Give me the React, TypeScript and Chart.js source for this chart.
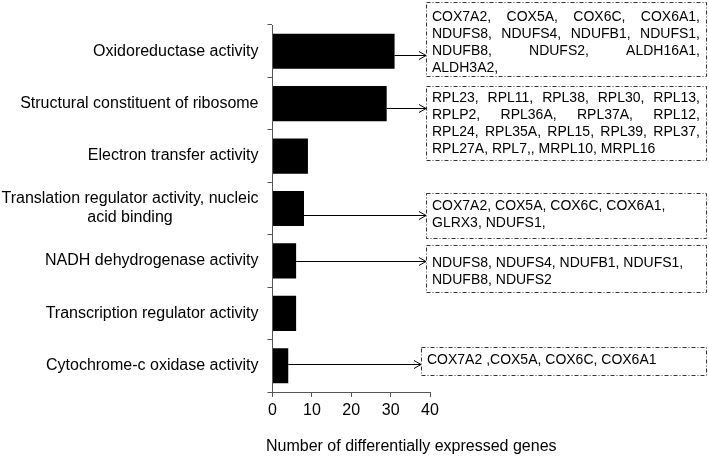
import React, { useEffect, useRef } from "react";
import { Chart, registerables } from "chart.js";

Chart.register(...registerables);

const categories: string[][] = [
  ["Oxidoreductase activity"],
  ["Structural constituent of ribosome"],
  ["Electron transfer activity"],
  ["Translation regulator activity, nucleic", "acid binding"],
  ["NADH dehydrogenase activity"],
  ["Transcription regulator activity"],
  ["Cytochrome-c oxidase activity"],
];
const geneCounts = [31, 29, 9, 8, 6, 6, 4];
const xTicks = [0, 10, 20, 30, 40];
const xTitle = "Number of differentially expressed genes";

const genesOxidoreductase = [
  "COX7A2, COX5A, COX6C, COX6A1,",
  "NDUFS8, NDUFS4, NDUFB1, NDUFS1,",
  "NDUFB8, NDUFS2, ALDH16A1,",
  "ALDH3A2,",
];
const genesRibosome = [
  "RPL23, RPL11, RPL38, RPL30, RPL13,",
  "RPLP2, RPL36A, RPL37A, RPL12,",
  "RPL24, RPL35A, RPL15, RPL39, RPL37,",
  "RPL27A, RPL7,, MRPL10, MRPL16",
];
const genesTranslation = ["COX7A2, COX5A, COX6C, COX6A1,", "GLRX3, NDUFS1,"];
const genesNADH = ["NDUFS8, NDUFS4, NDUFB1, NDUFS1,", "NDUFB8, NDUFS2"];
const genesCytochrome = ["COX7A2 ,COX5A, COX6C, COX6A1"];

const geneLists: (string[] | null)[] = [
  genesOxidoreductase,
  genesRibosome,
  null,
  genesTranslation,
  genesNADH,
  null,
  genesCytochrome,
];

// layout of annotation boxes (pixels), keyed by category index
const boxLayout: Record<
  number,
  { l: number; t: number; r: number; b: number; justify: boolean; firstY: number; arrowDy: number }
> = {
  0: { l: 426, t: 2, r: 706, b: 76, justify: true, firstY: 17, arrowDy: 4 },
  1: { l: 426, t: 86, r: 706, b: 160, justify: true, firstY: 98, arrowDy: 4 },
  3: { l: 426, t: 193, r: 706, b: 238, justify: false, firstY: 206, arrowDy: 6 },
  4: { l: 426, t: 245, r: 706, b: 292, justify: false, firstY: 263, arrowDy: 0 },
  6: { l: 421, t: 347, r: 706, b: 375, justify: false, firstY: 360, arrowDy: -2 },
};

const FONT = '"Liberation Sans", Arial, Helvetica, sans-serif';
const AXIS_COLOR = "#555555";

const annotPlugin = {
  id: "annot",
  afterDraw(chart: any) {
    const ctx = chart.ctx as CanvasRenderingContext2D;
    const xs = chart.scales.x;
    const ys = chart.scales.y;
    ctx.save();
    ctx.fillStyle = "#000";
    ctx.font = `16px ${FONT}`;
    // category labels
    categories.forEach((lines, i) => {
      const yc = ys.getPixelForValue(i);
      const widths = lines.map((s) => ctx.measureText(s).width);
      const maxW = Math.max(...widths);
      const right = ys.left + ys.width - 14;
      const lh = 19;
      ctx.textBaseline = "middle";
      ctx.textAlign = "center";
      lines.forEach((s, k) => {
        const y = yc + (k - (lines.length - 1) / 2) * lh;
        ctx.fillText(s, right - maxW / 2, y);
      });
    });
    // x title
    ctx.textAlign = "left";
    ctx.textBaseline = "middle";
    ctx.fillText(xTitle, 266, 447);

    // arrows & boxes
    ctx.font = `14px ${FONT}`;
    geneLists.forEach((lines, i) => {
      if (!lines) return;
      const bl = boxLayout[i];
      const x0 = xs.getPixelForValue(geneCounts[i]);
      const y = Math.round(ys.getPixelForValue(i) + bl.arrowDy) + 0.5;
      const tip = bl.l;
      ctx.strokeStyle = "#000";
      ctx.lineWidth = 1;
      ctx.setLineDash([]);
      ctx.beginPath();
      ctx.moveTo(x0, y);
      ctx.lineTo(tip, y);
      ctx.moveTo(tip - 7, y - 4);
      ctx.lineTo(tip, y);
      ctx.lineTo(tip - 7, y + 4);
      ctx.stroke();
      // box
      ctx.strokeStyle = "#333";
      ctx.setLineDash([4, 2, 1, 2]);
      ctx.strokeRect(bl.l + 0.5, bl.t + 0.5, bl.r - bl.l, bl.b - bl.t);
      ctx.setLineDash([]);
      // text
      const tl = bl.l + 6;
      const tr = bl.r - 6;
      ctx.fillStyle = "#000";
      ctx.textBaseline = "middle";
      ctx.textAlign = "left";
      lines.forEach((s, k) => {
        const ty = bl.firstY + k * 17;
        if (bl.justify && k < lines.length - 1) {
          const words = s.split(" ");
          const ww = words.map((w) => ctx.measureText(w).width);
          const total = ww.reduce((a, b) => a + b, 0);
          const gap = (tr - tl - total) / (words.length - 1);
          let x = tl;
          words.forEach((w, j) => {
            ctx.fillText(w, x, ty);
            x += ww[j] + gap;
          });
        } else {
          ctx.fillText(s, tl, ty);
        }
      });
    });
    ctx.restore();
  },
};

export default function App() {
  const ref = useRef<HTMLCanvasElement | null>(null);
  useEffect(() => {
    if (!ref.current) return;
    const chart = new Chart(ref.current, {
      type: "bar",
      data: {
        labels: categories.map((c) => c.join(" ")),
        datasets: [
          {
            data: geneCounts,
            backgroundColor: "#000000",
            borderWidth: 0,
            barPercentage: 0.67,
            categoryPercentage: 1,
          },
        ],
      },
      options: {
        indexAxis: "y",
        animation: false,
        responsive: false,
        maintainAspectRatio: false,
        layout: { padding: { left: 0, right: 279, top: 25, bottom: 0 } },
        plugins: { legend: { display: false }, tooltip: { enabled: false } },
        scales: {
          y: {
            type: "category",
            offset: true,
            afterFit: (s: any) => {
              s.width = 272.5;
            },
            ticks: { display: false },
            grid: {
              offset: true,
              drawOnChartArea: false,
              drawTicks: true,
              tickLength: 5,
              color: AXIS_COLOR,
            },
            border: { display: true, color: AXIS_COLOR, width: 1 },
          },
          x: {
            type: "linear",
            min: xTicks[0],
            max: xTicks[xTicks.length - 1],
            afterFit: (s: any) => {
              s.height = 64;
            },
            afterBuildTicks: (s: any) => {
              s.ticks = xTicks.map((v) => ({ value: v }));
            },
            ticks: {
              color: "#000",
              font: { family: FONT, size: 16 },
              padding: 4,
              maxRotation: 0,
            },
            grid: {
              drawOnChartArea: false,
              drawTicks: true,
              tickLength: 5,
              color: AXIS_COLOR,
            },
            border: { display: true, color: AXIS_COLOR, width: 1 },
          },
        },
      },
      plugins: [annotPlugin],
    } as any);
    return () => chart.destroy();
  }, []);
  return (
    <div style={{ position: "fixed", left: 0, top: 0, width: 709, height: 456, background: "#fff" }}>
      <canvas ref={ref} width={709} height={456} style={{ width: 709, height: 456, display: "block" }} />
    </div>
  );
}
